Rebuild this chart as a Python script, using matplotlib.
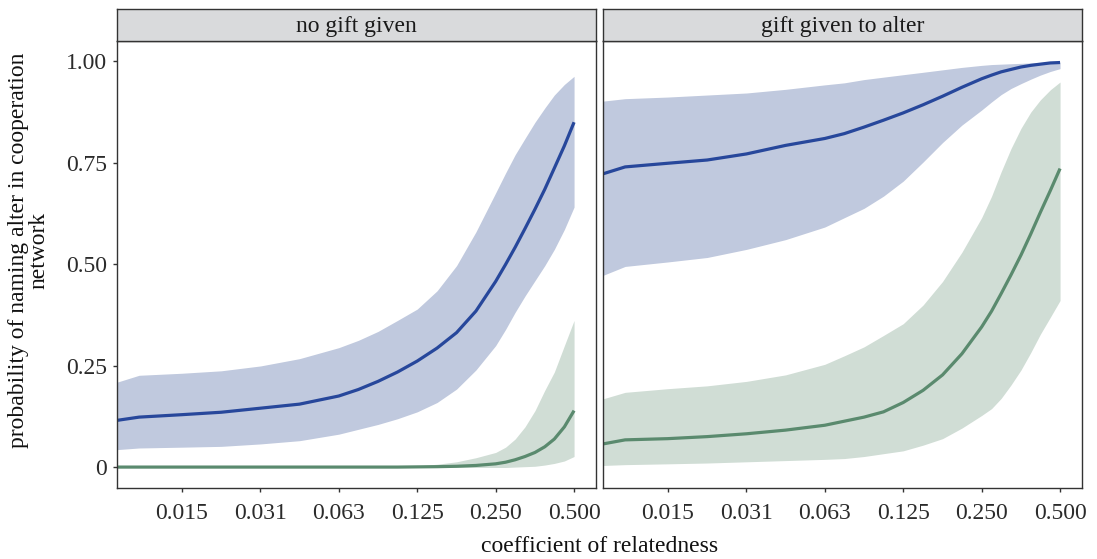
import numpy as np
import matplotlib.pyplot as plt

plt.rcParams['font.family'] = ['Liberation Serif', 'DejaVu Serif']

# coefficient of relatedness (log scale on the axis)
rel = [0.0088, 0.0107, 0.0156, 0.0221, 0.0313, 0.0442, 0.0625, 0.0743,
       0.0884, 0.105, 0.125, 0.149, 0.177, 0.21, 0.25, 0.273, 0.297,
       0.324, 0.354, 0.386, 0.42, 0.459, 0.5]

# panel "no gift given"
nogift_blue = [0.116, 0.124, 0.130, 0.136, 0.146, 0.156, 0.176, 0.192,
               0.212, 0.235, 0.262, 0.294, 0.332, 0.385, 0.458, 0.50,
               0.542, 0.588, 0.636, 0.685, 0.737, 0.792, 0.85]
nogift_blue_hi = [0.21, 0.227, 0.232, 0.238, 0.25, 0.268, 0.295, 0.313,
                  0.335, 0.362, 0.39, 0.435, 0.497, 0.58, 0.676, 0.725,
                  0.77, 0.81, 0.85, 0.885, 0.917, 0.943, 0.963]
nogift_blue_lo = [0.044, 0.048, 0.050, 0.052, 0.058, 0.066, 0.082, 0.094,
                  0.106, 0.12, 0.137, 0.16, 0.193, 0.24, 0.30, 0.34,
                  0.382, 0.422, 0.46, 0.497, 0.537, 0.586, 0.641]
nogift_green = [0.001, 0.001, 0.001, 0.001, 0.001, 0.001, 0.001, 0.001,
                0.001, 0.001, 0.0015, 0.002, 0.003, 0.005, 0.009, 0.013,
                0.019, 0.027, 0.037, 0.051, 0.07, 0.10, 0.14]
nogift_green_hi = [0.001, 0.001, 0.001, 0.001, 0.001, 0.001, 0.001, 0.001,
                   0.002, 0.003, 0.004, 0.008, 0.014, 0.024, 0.037, 0.05,
                   0.07, 0.10, 0.14, 0.19, 0.235, 0.30, 0.362]
nogift_green_lo = [0, 0, 0, 0, 0, 0, 0, 0, 0, 0, 0, 0, 0, 0, 0, 0,
                   0.001, 0.002, 0.003, 0.006, 0.01, 0.016, 0.027]

# panel "gift given to alter"
gift_blue = [0.723, 0.74, 0.749, 0.757, 0.772, 0.793, 0.81, 0.822,
             0.838, 0.855, 0.873, 0.893, 0.914, 0.936, 0.957, 0.966,
             0.974, 0.98, 0.986, 0.99, 0.993, 0.996, 0.997]
gift_blue_hi = [0.902, 0.908, 0.912, 0.917, 0.922, 0.931, 0.942, 0.947,
                0.955, 0.961, 0.967, 0.973, 0.979, 0.985, 0.99, 0.992,
                0.993, 0.994, 0.995, 0.996, 0.997, 0.998, 0.998]
gift_blue_lo = [0.473, 0.495, 0.506, 0.517, 0.537, 0.561, 0.592, 0.615,
                0.638, 0.668, 0.705, 0.752, 0.80, 0.843, 0.88, 0.90,
                0.918, 0.933, 0.945, 0.956, 0.966, 0.975, 0.982]
gift_green = [0.058, 0.068, 0.071, 0.076, 0.083, 0.092, 0.104, 0.114,
              0.124, 0.137, 0.16, 0.19, 0.228, 0.28, 0.346, 0.385,
              0.428, 0.474, 0.523, 0.575, 0.628, 0.682, 0.736]
gift_green_hi = [0.169, 0.185, 0.194, 0.201, 0.212, 0.228, 0.254, 0.275,
                 0.297, 0.325, 0.354, 0.40, 0.458, 0.53, 0.615, 0.668,
                 0.728, 0.785, 0.835, 0.875, 0.905, 0.93, 0.949]
gift_green_lo = [0.005, 0.007, 0.009, 0.011, 0.014, 0.017, 0.02, 0.022,
                 0.027, 0.034, 0.041, 0.055, 0.071, 0.097, 0.128, 0.145,
                 0.17, 0.203, 0.24, 0.283, 0.328, 0.37, 0.411]

xticks = [1/64, 1/32, 1/16, 1/8, 1/4, 1/2]
xtick_labels = ['0.015', '0.031', '0.063', '0.125', '0.250', '0.500']
yticks = [0, 0.25, 0.5, 0.75, 1.0]
ytick_labels = ['0', '0.25', '0.50', '0.75', '1.00']

blue, blue_fill = '#27479b', '#c0c9de'
green, green_fill = '#5a8a6e', '#d0ddd5'

panels = [
    ('no gift given', nogift_blue, nogift_blue_lo, nogift_blue_hi,
     nogift_green, nogift_green_lo, nogift_green_hi),
    ('gift given to alter', gift_blue, gift_blue_lo, gift_blue_hi,
     gift_green, gift_green_lo, gift_green_hi),
]

W, H = 1097, 559
fig = plt.figure(figsize=(W / 100, H / 100), dpi=100)
lefts = [117, 603]
pw = 479
top, bottom, strip_top = 41, 488, 9
fs = 17

for i, (title, b, blo, bhi, g, glo, ghi) in enumerate(panels):
    ax = fig.add_axes([lefts[i] / W, 1 - bottom / H, pw / W, (bottom - top) / H])
    ax.fill_between(rel, blo, bhi, color=blue_fill, lw=0)
    ax.fill_between(rel, glo, ghi, color=green_fill, lw=0)
    ax.plot(rel, b, color=blue, lw=2.3, solid_capstyle='butt')
    ax.plot(rel, g, color=green, lw=2.3, solid_capstyle='butt')
    ax.set_xscale('log', base=2)
    ax.set_xlim(0.0088, 0.607)
    ax.set_ylim(-0.0505, 1.05)
    ax.set_xticks(xticks)
    ax.set_xticklabels(xtick_labels)
    ax.minorticks_off()
    ax.tick_params(axis='x', length=3, width=1, color='#333333',
                   labelsize=fs, labelcolor='#2b2b2b', pad=8)
    if i == 0:
        ax.set_yticks(yticks)
        ax.set_yticklabels(ytick_labels)
        ax.tick_params(axis='y', length=3, width=1, color='#333333',
                       labelsize=fs, labelcolor='#2b2b2b', pad=4)
    else:
        ax.set_yticks([])
    for s in ax.spines.values():
        s.set_color('#333333')
        s.set_linewidth(1.0)

    # facet strip
    st = fig.add_axes([lefts[i] / W, 1 - top / H, pw / W, (top - strip_top) / H])
    st.set_facecolor('#d9dadc')
    st.set_xticks([])
    st.set_yticks([])
    for s in st.spines.values():
        s.set_color('#333333')
        s.set_linewidth(1.0)
    st.text(0.5, 0.45, title, ha='center', va='center', fontsize=fs,
            color='#1a1a1a', transform=st.transAxes)

fig.text(600 / W, 1 - 546 / H, 'coefficient of relatedness', ha='center',
         va='center', fontsize=fs, color='#111111')
fig.text(29 / W, 1 - 250 / H,
         'probability of naming alter in cooperation\nnetwork',
         ha='center', va='center', rotation=90, fontsize=fs,
         color='#111111', linespacing=0.95, multialignment='center')

fig.savefig('out.png', dpi=100)
